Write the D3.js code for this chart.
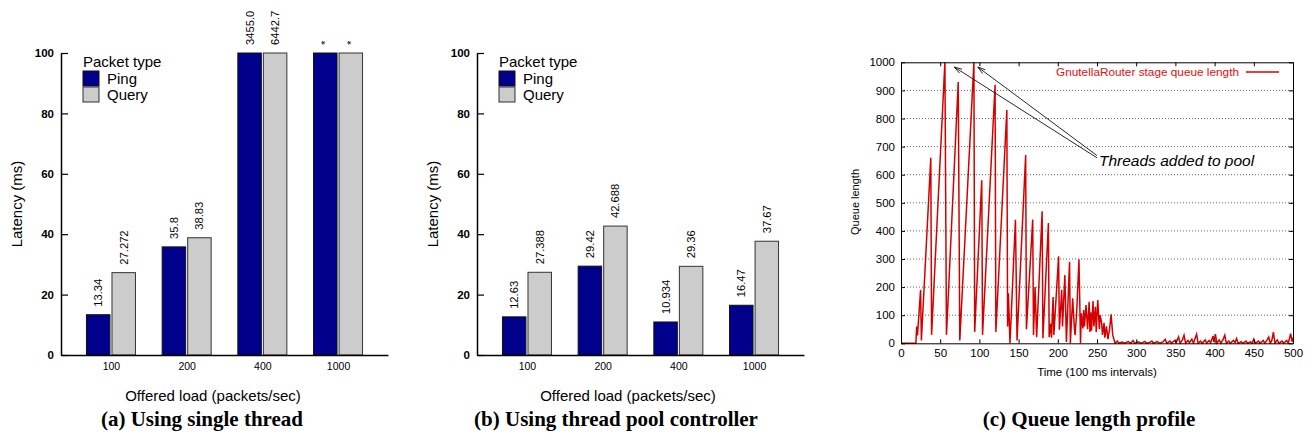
<!DOCTYPE html>
<html>
<head>
<meta charset="utf-8">
<script src="https://cdn.jsdelivr.net/npm/d3@7"></script>
<style>
  body { margin: 0; background: #fff; }
  svg { display: block; }
</style>
</head>
<body>
<svg id="chart" width="1309" height="441" font-family="Liberation Sans, Arial, sans-serif"></svg>
<script>
// ---------- data ----------
const loads = ["100", "200", "400", "1000"];
const packetTypes = ["Ping", "Query"];

// (a) single thread
const pingA = [13.34, 35.8, 3455.0, Infinity];
const queryA = [27.272, 38.83, 6442.7, Infinity];
const pingLabelsA = ["13.34", "35.8", "3455.0", "*"];
const queryLabelsA = ["27.272", "38.83", "6442.7", "*"];

// (b) thread pool controller
const pingB = [12.63, 29.42, 10.934, 16.47];
const queryB = [27.388, 42.688, 29.36, 37.67];
const pingLabelsB = ["12.63", "29.42", "10.934", "16.47"];
const queryLabelsB = ["27.388", "42.688", "29.36", "37.67"];

const latencyTicks = [0, 20, 40, 60, 80, 100];

// (c) queue length profile: vertices (time, length)
const queueTime = [0, 19, 20, 21, 25, 26, 38, 39, 56, 58, 73, 75, 93, 94, 103, 104, 120, 121, 135, 136, 137, 139,
  146, 148, 159, 160, 168, 169, 171, 173, 180, 181, 188, 189, 191, 192, 194, 195, 201, 202, 205, 206, 209, 211,
  215, 216, 219, 221, 222, 224, 227, 229, 230, 232, 233, 234, 236, 238, 240, 241, 242, 243, 245, 246, 248, 249,
  251, 253, 254, 256, 257, 259, 260, 262, 264, 266, 268, 270, 273,
  276, 278, 282, 285, 290, 293, 296, 298, 303, 306, 311, 313, 318, 320, 322, 327, 330, 334, 337, 339, 343, 345,
  349, 351, 354, 356, 359, 361, 363, 366, 368, 371, 373, 377, 379, 382, 384, 388, 390, 393, 395, 398, 399, 401,
  403, 406, 408, 411, 413, 415, 418, 420, 424, 426, 428, 430, 434, 436, 440, 442, 446, 448, 450, 452, 456, 458,
  462, 464, 467, 469, 471, 473, 475, 477, 480, 482, 486, 488, 492, 494, 497, 499, 500];
const queueLength = [0, 0, 60, 28, 190, 10, 660, 30, 1000, 30, 930, 10, 1000, 40, 580, 30, 920, 40, 830, 60, 178, 0,
  440, 10, 670, 50, 440, 30, 200, 22, 470, 18, 428, 22, 70, 20, 165, 30, 310, 48, 190, 60, 243, 5,
  290, 0, 160, 60, 29, 106, 299, 0, 107, 53, 118, 60, 136, 50, 148, 40, 110, 45, 150, 60, 130, 40,
  154, 50, 100, 70, 30, 73, 20, 60, 15, 50, 103, 30, 0,
  8, 0, 4, 0, 6, 0, 10, 0, 5, 0, 7, 0, 4, 8, 0, 6, 0, 5, 14, 0, 8, 0,
  10, 3, 23, 0, 12, 29, 0, 10, 2, 15, 0, 32, 0, 8, 0, 12, 0, 10, 2, 26, 5, 33,
  0, 12, 0, 15, 29, 0, 8, 0, 10, 2, 17, 0, 6, 0, 8, 0, 5, 0, 15, 0, 8, 0,
  10, 0, 12, 22, 0, 10, 40, 0, 12, 0, 8, 0, 10, 0, 34, 5, 20];
const timeTicks = [0, 50, 100, 150, 200, 250, 300, 350, 400, 450, 500];
const lengthTicks = [0, 100, 200, 300, 400, 500, 600, 700, 800, 900, 1000];

// annotation arrows: [time, length]
const arrowTails = [[250, 660], [250, 668]];
const arrowTips = [[68, 983], [98, 983]];

// ---------- drawing ----------
const svg = d3.select("#chart");
const SANS = "Liberation Sans, Arial, sans-serif";
const SERIF = "Liberation Serif, Times New Roman, serif";
const NAVY = "#00008c", GREY = "#cccccc";

function barPanel(opts) {
  const g = svg.append("g");
  const y = d3.scaleLinear().domain([0, 100]).range([355, 53]).clamp(true);
  const x = d3.scalePoint().domain(loads).range([opts.x0, opts.x1]).padding(0.66);
  const sub = d3.scaleBand().domain(packetTypes).range([-24.5, 24.5]).paddingInner(0.08);

  const series = [
    {type: "Ping", vals: opts.ping, labels: opts.pingLabels, fill: NAVY, stroke: "#111"},
    {type: "Query", vals: opts.query, labels: opts.queryLabels, fill: GREY, stroke: "#333"}
  ];
  series.forEach(s => {
    const data = loads.map((l, i) => ({l, v: s.vals[i], lab: s.labels[i]}));
    g.selectAll(null).data(data).enter().append("rect")
      .attr("x", d => x(d.l) + sub(s.type))
      .attr("y", d => y(d.v))
      .attr("width", sub.bandwidth())
      .attr("height", d => y(0) - y(d.v))
      .attr("fill", s.fill).attr("stroke", s.stroke).attr("stroke-width", 1);
    g.selectAll(null).data(data).enter().append("text")
      .attr("transform", d => `translate(${x(d.l) + sub(s.type) + sub.bandwidth() / 2},${y(d.v) - 8}) rotate(-90)`)
      .attr("dy", "0.35em")
      .attr("font-family", SANS).attr("font-size", 11.2).attr("fill", "#000")
      .text(d => d.lab);
  });

  const ya = g.append("g").attr("transform", `translate(${opts.x0},0)`)
    .call(d3.axisLeft(y).tickValues(latencyTicks).tickSizeInner(-7).tickSizeOuter(0).tickPadding(7));
  ya.select(".domain").attr("stroke", "#000").attr("stroke-width", 1.5);
  ya.selectAll(".tick line").attr("stroke", "#000").attr("stroke-width", 1.2);
  ya.selectAll(".tick text").attr("font-family", SANS)
    .attr("font-weight", "bold").attr("font-size", 11.5).attr("fill", "#000");

  const xa = g.append("g").attr("transform", `translate(0,355)`)
    .call(d3.axisBottom(x).tickSize(0).tickPadding(8));
  xa.select(".domain").attr("stroke", "#000").attr("stroke-width", 1.5);
  xa.selectAll(".tick text").attr("font-family", SANS)
    .attr("font-size", 10.5).attr("fill", "#000");

  g.append("text").attr("transform", `translate(${opts.yLabelX},204) rotate(-90)`)
    .attr("text-anchor", "middle").attr("dy", "0.35em").attr("font-family", SANS).attr("font-size", 15).text("Latency (ms)");
  g.append("text").attr("x", opts.xLabelX).attr("y", 401)
    .attr("text-anchor", "middle").attr("font-family", SANS).attr("font-size", 15).text("Offered load (packets/sec)");

  const lx = opts.x0 + 22;
  g.append("text").attr("x", lx).attr("y", 67).attr("font-family", SANS).attr("font-size", 15).text("Packet type");
  const sw = [{t: "Ping", f: NAVY, s: "#111"}, {t: "Query", f: GREY, s: "#333"}];
  sw.forEach((d, i) => {
    g.append("rect").attr("x", lx).attr("y", 71 + i * 16).attr("width", 16).attr("height", 15)
      .attr("fill", d.f).attr("stroke", d.s).attr("stroke-width", 1);
    g.append("text").attr("x", lx + 24).attr("y", 84 + i * 16).attr("font-family", SANS).attr("font-size", 15).text(d.t);
  });

  g.append("text").attr("x", opts.capX).attr("y", 426).attr("text-anchor", "middle")
    .attr("font-family", SERIF).attr("font-weight", "bold")
    .attr("font-size", 21).text(opts.caption);
}

barPanel({x0: 61, x1: 388, ping: pingA, query: queryA, pingLabels: pingLabelsA, queryLabels: queryLabelsA,
  yLabelX: 17, xLabelX: 213, capX: 202, caption: "(a) Using single thread"});
barPanel({x0: 477, x1: 804, ping: pingB, query: queryB, pingLabels: pingLabelsB, queryLabels: queryLabelsB,
  yLabelX: 433, xLabelX: 628, capX: 616, caption: "(b) Using thread pool controller"});

// ---------- panel (c) ----------
(function () {
  const L = 901, R = 1293, T = 62.3, B = 343.3;
  const g = svg.append("g");
  const x = d3.scaleLinear().domain([0, 500]).range([L, R]);
  const y = d3.scaleLinear().domain([0, 1000]).range([B, T]);

  g.append("g").selectAll("line").data(lengthTicks.filter(v => v > 0 && v < 1000)).enter().append("line")
    .attr("x1", L).attr("x2", R).attr("y1", d => y(d)).attr("y2", d => y(d))
    .attr("stroke", "#666").attr("stroke-width", 1).attr("stroke-dasharray", "1,2");

  svg.append("defs").append("clipPath").attr("id", "clipC").append("rect")
    .attr("x", L).attr("y", T - 1).attr("width", R - L).attr("height", B - T + 2);

  const pts = queueTime.map((t, i) => [t, queueLength[i]]);
  g.append("path").datum(pts).attr("clip-path", "url(#clipC)")
    .attr("d", d3.line().x(d => x(d[0])).y(d => y(d[1])))
    .attr("fill", "none").attr("stroke", "#d40000").attr("stroke-width", 1.5).attr("stroke-linejoin", "miter");

  const styleAxis = sel => {
    sel.select(".domain").attr("stroke", "#000").attr("stroke-width", 1);
    sel.selectAll(".tick line").attr("stroke", "#000");
    sel.selectAll(".tick text").attr("font-family", SANS).attr("font-size", 11.5).attr("fill", "#000");
  };
  const fmt = d3.format("d");
  g.append("g").attr("transform", `translate(0,${B})`)
    .call(d3.axisBottom(x).tickValues(timeTicks).tickFormat(fmt).tickSizeInner(-4).tickSizeOuter(0).tickPadding(6))
    .call(styleAxis);
  g.append("g").attr("transform", `translate(0,${T})`)
    .call(d3.axisTop(x).tickValues(timeTicks).tickSizeInner(-4).tickSizeOuter(0).tickFormat(""))
    .call(styleAxis);
  g.append("g").attr("transform", `translate(${L},0)`)
    .call(d3.axisLeft(y).tickValues(lengthTicks).tickFormat(fmt).tickSizeInner(-4).tickSizeOuter(0).tickPadding(6))
    .call(styleAxis);
  g.append("g").attr("transform", `translate(${R},0)`)
    .call(d3.axisRight(y).tickValues(lengthTicks).tickSizeInner(-4).tickSizeOuter(0).tickFormat(""))
    .call(styleAxis);

  g.append("text").attr("transform", `translate(855,202) rotate(-90)`).attr("text-anchor", "middle")
    .attr("dy", "0.35em").attr("font-family", SANS).attr("font-size", 11).text("Queue length");
  g.append("text").attr("x", 1097).attr("y", 376).attr("text-anchor", "middle")
    .attr("font-family", SANS).attr("font-size", 11.5).text("Time (100 ms intervals)");

  g.append("text").attr("x", 1239).attr("y", 76).attr("text-anchor", "end")
    .attr("font-family", SANS).attr("font-size", 11.8).attr("fill", "#e01010").text("GnutellaRouter stage queue length");
  g.append("line").attr("x1", 1246).attr("x2", 1279).attr("y1", 72).attr("y2", 72)
    .attr("stroke", "#d40000").attr("stroke-width", 1.5);

  arrowTails.forEach((t, i) => {
    const x1 = x(t[0]), y1 = y(t[1]), x2 = x(arrowTips[i][0]), y2 = y(arrowTips[i][1]);
    g.append("line").attr("x1", x1).attr("y1", y1).attr("x2", x2).attr("y2", y2)
      .attr("stroke", "#111").attr("stroke-width", 0.9);
    const ang = Math.atan2(y1 - y2, x1 - x2), len = 8, spread = 0.3;
    const p1 = [x2 + len * Math.cos(ang + spread), y2 + len * Math.sin(ang + spread)];
    const p2 = [x2 + len * Math.cos(ang - spread), y2 + len * Math.sin(ang - spread)];
    g.append("path").attr("d", `M${p1[0]},${p1[1]}L${x2},${y2}L${p2[0]},${p2[1]}`)
      .attr("fill", "none").attr("stroke", "#111").attr("stroke-width", 0.9);
  });
  g.append("text").attr("x", 1099).attr("y", 166).attr("font-family", SANS).attr("font-size", 15.5)
    .attr("font-style", "italic").text("Threads added to pool");

  g.append("text").attr("x", 1089).attr("y", 426).attr("text-anchor", "middle")
    .attr("font-family", SERIF).attr("font-weight", "bold")
    .attr("font-size", 21).text("(c) Queue length profile");
})();
</script>
</body>
</html>
